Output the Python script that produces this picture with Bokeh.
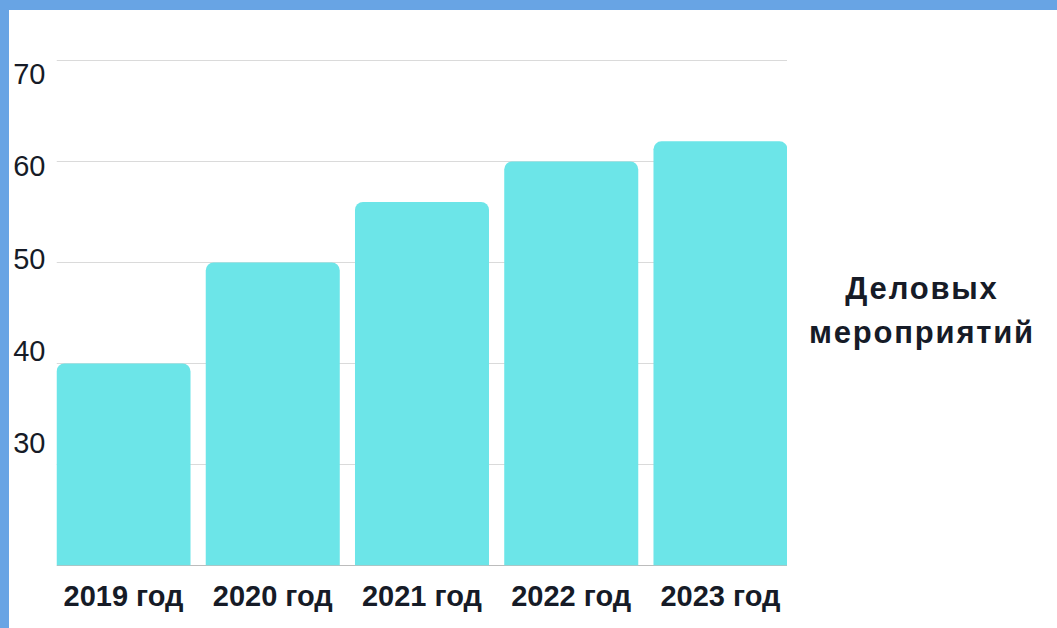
from bokeh.plotting import figure
from bokeh.models import Range1d, LinearAxis, FixedTicker, Span, Div
from bokeh.layouts import row, column
from bokeh.embed import file_html
from bokeh.resources import INLINE

# ---- data ----
years = ["2019 год", "2020 год", "2021 год", "2022 год", "2023 год"]
events = [40, 50, 56, 60, 62]
y_ticks = [30, 40, 50, 60, 70]
legend_lines = ["Деловых", "мероприятий"]

# ---- style ----
BAR_COLOR = "#6ce5e8"
BLUE = "#68a4e4"
TEXT = "#161b27"
GRID = "#dadada"
Y_MIN, Y_MAX = 20, 70.1
BAR_W = 0.898

xs = list(range(len(years)))

p = figure(width=778, height=618, output_backend="svg", toolbar_location=None,
           x_range=Range1d(-BAR_W / 2, len(years) - 1 + BAR_W / 2),
           y_range=Range1d(Y_MIN, Y_MAX),
           y_axis_location=None,
           min_border_left=47, min_border_right=0,
           min_border_top=49, min_border_bottom=63)
p.outline_line_color = None
p.background_fill_color = "white"
p.border_fill_color = "white"

# grid lines (behind bars)
p.xgrid.visible = False
p.ygrid.ticker = FixedTicker(ticks=y_ticks)
p.ygrid.grid_line_color = GRID
p.ygrid.grid_line_width = 1

# baseline behind bars
p.add_layout(Span(location=Y_MIN, dimension="width", line_color="#7a7a7a",
                  line_width=1, level="underlay"))

p.vbar(x=xs, top=events, bottom=Y_MIN, width=BAR_W, fill_color=BAR_COLOR,
       line_color=None, border_radius=(8, 8, 0, 0))

# y labels on their own scale (as in the reference)
p.extra_y_ranges = {"lab": Range1d(16.79, 71.57)}
yax = LinearAxis(y_range_name="lab", ticker=FixedTicker(ticks=y_ticks))
yax.axis_line_color = None
yax.major_tick_line_color = None
yax.minor_tick_line_color = None
yax.major_tick_out = 0
yax.major_tick_in = 0
yax.minor_tick_out = 0
yax.minor_tick_in = 0
yax.major_label_standoff = 11
yax.major_label_text_font = "Liberation Sans"
yax.major_label_text_font_size = "29px"
yax.major_label_text_color = TEXT
p.add_layout(yax, "left")

xax = p.xaxis[0]
xax.ticker = FixedTicker(ticks=xs)
xax.major_label_overrides = {i: years[i] for i in xs}
xax.axis_line_color = None
xax.major_tick_line_color = None
xax.minor_tick_line_color = None
xax.major_tick_out = 0
xax.major_tick_in = 0
xax.minor_tick_out = 0
xax.minor_tick_in = 0
xax.major_label_standoff = 14
xax.major_label_text_font = "Liberation Sans"
xax.major_label_text_font_style = "bold"
xax.major_label_text_font_size = "29px"
xax.major_label_text_color = TEXT

legend_html = (
    '<div style="width:270px;height:618px;display:flex;align-items:center;'
    'justify-content:center;text-align:center;font-family:\'Liberation Sans\';'
    'font-weight:bold;font-size:31px;letter-spacing:1.8px;line-height:44px;color:%s;'
    'box-sizing:border-box;padding-bottom:16px;">%s</div>'
    % (TEXT, "<br>".join(legend_lines))
)
legend_div = Div(text=legend_html, width=270, height=618, margin=0)

left_strip = Div(text="", width=9, height=628, margin=0,
                 styles={"background-color": BLUE})
top_strip = Div(text="", width=1048, height=10, margin=0,
                styles={"background-color": BLUE})

root = row(left_strip, column(top_strip, row(p, legend_div, spacing=0), spacing=0),
           spacing=0)

open("out.html", "w").write(file_html(root, INLINE))
